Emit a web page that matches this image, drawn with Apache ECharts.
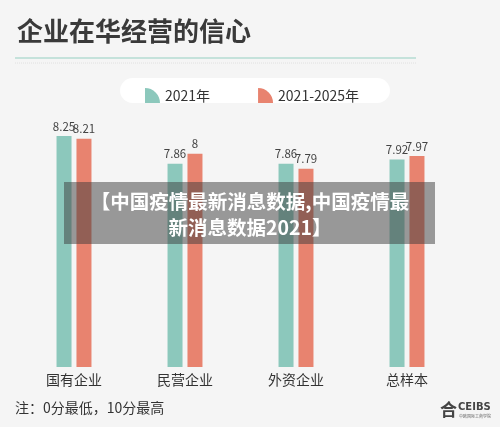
<!DOCTYPE html>
<html>
<head>
<meta charset="utf-8">
<script src="https://cdn.jsdelivr.net/npm/echarts@6/dist/echarts.min.js"></script>
<style>
  html, body { margin: 0; padding: 0; background: #f5f5f5; }
  #main { width: 500px; height: 427px; }
</style>
</head>
<body>
<div id="main"></div>
<script>
// 企业在华经营的信心
const categories = ['国有企业', '民营企业', '外资企业', '总样本'];
const seriesNames = ['2021年', '2021-2025年'];
const conf2021 = [8.25, 7.86, 7.86, 7.92];
const conf2025 = [8.21, 8, 7.79, 7.97];

const teal = '#8cc8bc';
const red = '#e8836f';
const fanIcon = 'path://M0,20 L0,0 A20,20 0 0,1 20,20 Z'; // 扇形图例

let myChart = echarts.init(document.getElementById('main'));
let option = {
  backgroundColor: '#f5f5f5',
  textStyle: { fontFamily: '"Noto Sans CJK SC", "Noto Sans", sans-serif' },
  title: {
    text: '企业在华经营的信心',
    left: 12, top: 13,
    textStyle: { fontSize: 26, fontWeight: 'bold', color: '#3a3a3a' }
  },
  legend: {
    data: seriesNames,
    left: 140, top: 83,
    icon: fanIcon,
    itemWidth: 15, itemHeight: 15,
    itemGap: 48,
    itemTextGap: 7,
    textStyle: { fontSize: 14, color: '#333' }
  },
  grid: { left: 18.5, right: 37.5, top: 118.2, bottom: 60 },
  xAxis: {
    type: 'category',
    data: categories,
    axisLine: { show: false },
    axisTick: { show: false },
    axisLabel: { fontSize: 14, color: '#333', margin: 6 }
  },
  yAxis: {
    type: 'value',
    min: 5, max: 8.5,
    show: false
  },
  series: [
    {
      name: seriesNames[0], type: 'bar', data: conf2021,
      barWidth: 15, barGap: '33%',
      itemStyle: { color: teal },
      label: { show: true, position: 'top', distance: 4, fontSize: 11.5, color: '#444' }
    },
    {
      name: seriesNames[1], type: 'bar', data: conf2025,
      barWidth: 15,
      itemStyle: { color: red },
      label: { show: true, position: 'top', distance: 4, fontSize: 11.5, color: '#444' }
    }
  ],
  graphic: [
    { type: 'line', z: 1, shape: { x1: 15, y1: 58, x2: 416, y2: 58 }, style: { stroke: '#b5dbd2', lineWidth: 1.5 } },
    { type: 'line', z: 1, shape: { x1: 15, y1: 63, x2: 416, y2: 63 }, style: { stroke: '#e0e0e0', lineWidth: 1, lineDash: [1, 1] } },
    { type: 'rect', z: -1, shape: { x: 120, y: 78, width: 270, height: 25, r: 12.5 }, style: { fill: '#ffffff' } },
    { type: 'text', left: 15, top: 401, style: { text: '注：0分最低，10分最高', font: '14px "Noto Sans CJK SC", sans-serif', fill: '#333' } },
    { type: 'text', left: 440, top: 401, style: { text: '合', font: 'bold 17px "Noto Sans CJK SC", sans-serif', fill: '#444' } },
    { type: 'text', left: 458, top: 402, style: { text: 'CEIBS', font: 'bold 10px "DejaVu Sans", sans-serif', fill: '#444' } },
    { type: 'text', left: 459, top: 414, style: { text: '中欧国际工商学院', font: '4px "Noto Sans CJK SC", sans-serif', fill: '#666' } },
    { type: 'rect', z: 100, shape: { x: 64, y: 182, width: 371, height: 62 }, style: { fill: 'rgba(60,60,60,0.5)' } },
    {
      type: 'text', z: 101,
      style: {
        x: 250, y: 189,
        text: '【中国疫情最新消息数据,中国疫情最\n新消息数据2021】',
        font: 'bold 19.5px "Noto Sans CJK SC", sans-serif',
        fill: '#ffffff', align: 'center', verticalAlign: 'top', lineHeight: 26
      }
    }
  ]
};
myChart.setOption(option);
</script>
</body>
</html>
